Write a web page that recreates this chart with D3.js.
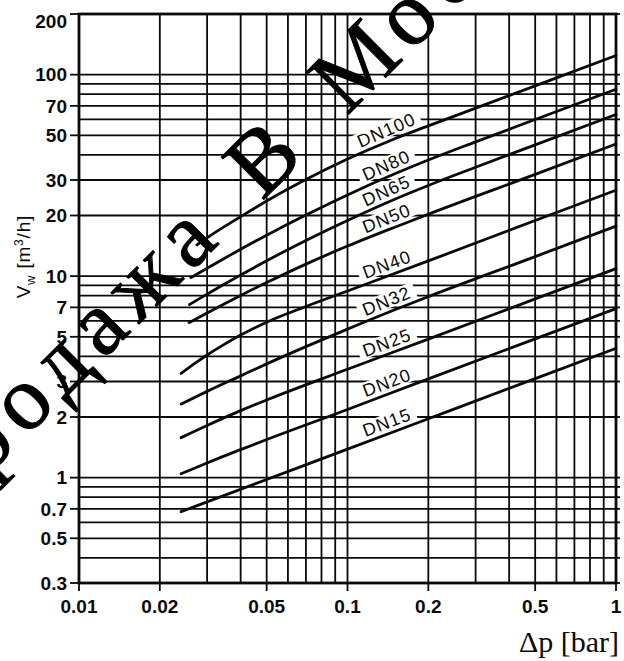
<!DOCTYPE html>
<html>
<head>
<meta charset="utf-8">
<script src="https://cdn.jsdelivr.net/npm/d3@7"></script>
<style>
  body { margin: 0; background: #fff; }
  svg { display: block; }
</style>
</head>
<body>
<div id="chart"></div>
<script>
// curve names, top to bottom
const dnNames = ["DN100", "DN80", "DN65", "DN50", "DN40", "DN32", "DN25", "DN20", "DN15"];

// [Δp bar, Vw m3/h]
const dn100 = [[0.0275, 14.3], [0.03, 15.5], [0.035, 17.7], [0.04, 19.75], [0.05, 23.6], [0.07, 30.15], [0.1, 38.1], [0.15, 48.1], [0.2, 55.7], [0.5, 88.0], [1, 124.5]];
const dn80  = [[0.0261, 9.83], [0.03, 10.95], [0.035, 12.3], [0.04, 13.6], [0.05, 15.97], [0.07, 20.1], [0.1, 25.3], [0.15, 32.2], [0.2, 37.7], [0.3, 46.4], [0.5, 59.9], [1, 84.7]];
const dn65  = [[0.0258, 7.23], [0.03, 8.14], [0.035, 9.17], [0.04, 10.13], [0.05, 11.92], [0.07, 15.03], [0.1, 18.9], [0.15, 24.1], [0.2, 28.2], [0.3, 34.7], [0.5, 44.8], [1, 63.4]];
const dn50  = [[0.0257, 5.88], [0.03, 6.57], [0.035, 7.32], [0.04, 8.02], [0.05, 9.29], [0.07, 11.47], [0.1, 14.1], [0.15, 17.5], [0.2, 20.3], [0.5, 32.0], [1, 45.3]];
const dn40  = [[0.024, 3.29], [0.027, 3.69], [0.03, 4.06], [0.035, 4.61], [0.04, 5.10], [0.05, 5.91], [0.07, 7.07], [0.1, 8.44], [0.2, 11.9], [0.5, 18.9], [1, 26.7]];
const dn32  = [[0.024, 2.32], [0.03, 2.68], [0.04, 3.20], [0.05, 3.67], [0.07, 4.47], [0.1, 5.46], [0.15, 6.81], [0.2, 7.91], [0.5, 12.5], [1, 17.7]];
const dn25  = [[0.024, 1.58], [0.03, 1.815], [0.04, 2.15], [0.05, 2.43], [0.1, 3.45], [0.2, 4.87], [0.5, 7.71], [1, 10.9]];
const dn20  = [[0.024, 1.045], [0.03, 1.183], [0.04, 1.378], [0.1, 2.18], [0.2, 3.09], [0.5, 4.88], [1, 6.9]];
const dn15  = [[0.024, 0.678], [0.05, 0.979], [0.1, 1.385], [0.2, 1.96], [0.5, 3.10], [1, 4.38]];

const dnSeries = [dn100, dn80, dn65, dn50, dn40, dn32, dn25, dn20, dn15];

const dpTicks = [0.01, 0.02, 0.05, 0.1, 0.2, 0.5, 1];
const dpTickLabels = ["0.01", "0.02", "0.05", "0.1", "0.2", "0.5", "1"];
const vTicks = [0.3, 0.5, 0.7, 1, 2, 3, 5, 7, 10, 20, 30, 50, 70, 100, 200];
const vTickLabels = ["0.3", "0.5", "0.7", "1", "2", "3", "5", "7", "10", "20", "30", "50", "70", "100", "200"];

// where the DN labels sit along the curves
const labelDp = 0.145;

const width = 624, height = 661;
const margin = { left: 79, right: 8, top: 14, bottom: 78 };

const svg = d3.select("#chart").append("svg")
    .attr("width", width)
    .attr("height", height)
    .style("background", "#fff");

const x = d3.scaleLog().domain([0.01, 1]).range([margin.left, width - margin.right]);
const y = d3.scaleLog().domain([0.3, 200]).range([height - margin.bottom, margin.top]);

const sans = "'Liberation Sans', Arial, Helvetica, sans-serif";
const serif = "'Liberation Serif', 'Times New Roman', serif";
const ink = "#0a0a0a";

// grid
const grid = svg.append("g").attr("stroke", ink).attr("stroke-width", 1.8);
grid.selectAll("line.v")
    .data(x.ticks())
    .join("line")
    .attr("class", "v")
    .attr("x1", d => x(d)).attr("x2", d => x(d))
    .attr("y1", y(200)).attr("y2", y(0.3));
grid.selectAll("line.h")
    .data(y.ticks())
    .join("line")
    .attr("class", "h")
    .attr("x1", x(0.01)).attr("x2", x(1))
    .attr("y1", d => y(d)).attr("y2", d => y(d));

// value on a curve at a given Δp (log-log interpolation)
function segmentAt(series, dp) {
    for (let i = 0; i < series.length - 1; i++) {
        if (dp >= series[i][0] && dp <= series[i + 1][0]) return [series[i], series[i + 1]];
    }
    return [series[series.length - 2], series[series.length - 1]];
}
function valueAt(series, dp) {
    const [[a, va], [b, vb]] = segmentAt(series, dp);
    const t = Math.log(dp / a) / Math.log(b / a);
    return Math.exp(Math.log(va) + t * Math.log(vb / va));
}
function angleAt(series, dp) {
    const [[a, va], [b, vb]] = segmentAt(series, dp);
    return Math.atan2(y(vb) - y(va), x(b) - x(a)) * 180 / Math.PI;
}

const labelFont = 18;
const labels = dnNames.map((name, i) => ({
    name,
    px: x(labelDp),
    py: y(valueAt(dnSeries[i], labelDp)),
    angle: angleAt(dnSeries[i], labelDp)
}));

// white boxes behind the labels cut the grid
const labelNodes = svg.append("g")
    .selectAll("g")
    .data(labels)
    .join("g")
    .attr("transform", d => `translate(${d.px},${d.py}) rotate(${d.angle}) translate(0,-5)`);

labelNodes.append("rect").attr("fill", "#fff");

// curves
const line = d3.line()
    .x(d => x(d[0]))
    .y(d => y(d[1]))
    .curve(d3.curveMonotoneX);

svg.append("g")
    .selectAll("path")
    .data(dnSeries)
    .join("path")
    .attr("d", line)
    .attr("fill", "none")
    .attr("stroke", ink)
    .attr("stroke-width", 2.8)
    .attr("stroke-linecap", "round");

const labelText = labelNodes.append("text")
    .attr("text-anchor", "middle")
    .attr("font-family", sans)
    .attr("font-size", labelFont)
    .attr("letter-spacing", 1.1)
    .attr("fill", ink)
    .text(d => d.name);

labelText.each(function() {
    const w = this.getComputedTextLength();
    d3.select(this.parentNode).select("rect")
        .attr("x", -w / 2 - 5)
        .attr("y", -labelFont * 0.8)
        .attr("width", w + 10)
        .attr("height", labelFont * 0.88);
});

// frame
svg.append("rect")
    .attr("x", x(0.01)).attr("y", y(200))
    .attr("width", x(1) - x(0.01))
    .attr("height", y(0.3) - y(200))
    .attr("fill", "none")
    .attr("stroke", ink)
    .attr("stroke-width", 2.8);

// ticks outside the frame
const axes = svg.append("g").attr("stroke", ink).attr("stroke-width", 1.8);
axes.selectAll("line.yt")
    .data(vTicks)
    .join("line")
    .attr("class", "yt")
    .attr("x1", x(0.01) - 9).attr("x2", x(0.01))
    .attr("y1", d => y(d)).attr("y2", d => y(d));
axes.selectAll("line.xt")
    .data(dpTicks)
    .join("line")
    .attr("class", "xt")
    .attr("x1", d => x(d)).attr("x2", d => x(d))
    .attr("y1", y(0.3)).attr("y2", y(0.3) + 8);
axes.selectAll("line.rt")
    .data(y.ticks())
    .join("line")
    .attr("class", "rt")
    .attr("x1", x(1)).attr("x2", x(1) + 4)
    .attr("y1", d => y(d)).attr("y2", d => y(d));

svg.append("g")
    .selectAll("text")
    .data(vTicks)
    .join("text")
    .attr("x", x(0.01) - 12)
    .attr("y", d => Math.max(y(d), margin.top + 7))
    .attr("dy", "0.36em")
    .attr("text-anchor", "end")
    .attr("font-family", sans)
    .attr("font-weight", "bold")
    .attr("font-size", 19)
    .attr("fill", ink)
    .text((d, i) => vTickLabels[i]);

svg.append("g")
    .selectAll("text")
    .data(dpTicks)
    .join("text")
    .attr("x", d => x(d))
    .attr("y", y(0.3) + 30)
    .attr("text-anchor", "middle")
    .attr("font-family", sans)
    .attr("font-weight", "bold")
    .attr("font-size", 19)
    .attr("fill", ink)
    .text((d, i) => dpTickLabels[i]);

// axis titles
const yTitle = svg.append("text")
    .attr("transform", `translate(30, ${y(12.5)}) rotate(-90)`)
    .attr("text-anchor", "middle")
    .attr("font-family", sans)
    .attr("font-size", 19)
    .attr("letter-spacing", 0.8)
    .attr("fill", ink);
yTitle.append("tspan").text("V");
yTitle.append("tspan").attr("font-size", 13).attr("dy", 5).text("w");
yTitle.append("tspan").attr("dy", -5).text(" [m");
yTitle.append("tspan").attr("font-size", 12).attr("dy", -7).text("3");
yTitle.append("tspan").attr("dy", 7).text("/h]");

svg.append("text")
    .attr("x", width - 5)
    .attr("y", 652)
    .attr("text-anchor", "end")
    .attr("font-family", serif)
    .attr("font-size", 30)
    .attr("fill", ink)
    .text("Δp [bar]");

// watermark over the chart, placed so that the "В" lands where it is in the scan
const mark = svg.append("g");
const markText = mark.append("text")
    .attr("font-family", serif)
    .attr("font-size", 92)
    .attr("letter-spacing", 10)
    .attr("word-spacing", 16)
    .attr("stroke", "#000")
    .attr("stroke-width", 1)
    .attr("fill", "#000")
    .text("Продажа В Москве");
const bx = markText.node().getExtentOfChar(8);
mark.attr("transform",
    `translate(271,160) rotate(-45) translate(${-(bx.x + bx.width / 2)},${-(bx.y + bx.height * 0.58)})`);
</script>
</body>
</html>
